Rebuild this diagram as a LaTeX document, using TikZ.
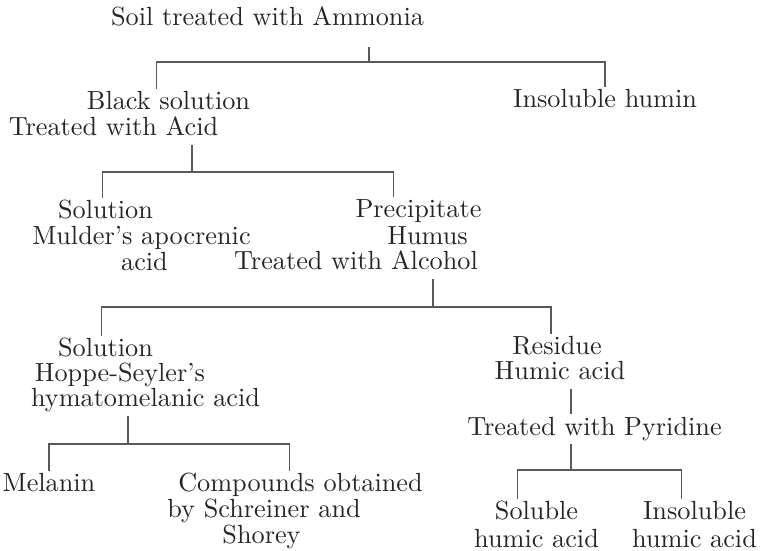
\documentclass[tikz,border=0pt]{standalone}
\usepackage{tikz}
\usetikzlibrary{calc}
\tikzset{
  lbl/.style={anchor=base, inner sep=1pt, text height=7pt, text depth=2.5pt, font=\fontsize{10.5}{11}\selectfont, text=black!85},
  tie/.style={draw=black!65, line width=0.45pt},
}
\begin{document}
\begin{tikzpicture}[x=0.4pt, y=-0.4pt]
\useasboundingbox (0,0) rectangle (766,551);
\node[lbl] (soil) at (267.5,26) {Soil treated with Ammonia};
\node[lbl] (blacksol) at (168.5,110) {Black solution};
\node[lbl] (acidtreat) at (113.5,136) {Treated with Acid};
\node[lbl] (humin) at (605,108) {Insoluble humin};
\node[lbl] (sol1) at (105.5,219) {Solution};
\node[lbl] (mulder) at (141.5,245) {Mulder's apocrenic};
\node[lbl] (mulderacid) at (144.5,271) {acid};
\node[lbl] (precip) at (418.5,218) {Precipitate};
\node[lbl] (humus) at (427.5,245) {Humus};
\node[lbl] (alctreat) at (356,270) {Treated with Alcohol};
\node[lbl] (sol2) at (105.5,357) {Solution};
\node[lbl] (hoppe) at (120,382) {Hoppe-Seyler's};
\node[lbl] (hymato) at (145.5,407) {hymatomelanic acid};
\node[lbl] (residue) at (557,355) {Residue};
\node[lbl] (humic) at (560,380) {Humic acid};
\node[lbl] (pyrtreat) at (594.5,435) {Treated with Pyridine};
\node[lbl] (melanin) at (49,492) {Melanin};
\node[lbl] (comp1) at (300.5,492) {Compounds obtained};
\node[lbl] (comp2) at (264,518) {by Schreiner and};
\node[lbl] (comp3) at (261.5,543) {Shorey};
\node[lbl] (soluble) at (536.5,520) {Soluble};
\node[lbl] (solacid) at (536.5,547) {humic acid};
\node[lbl] (insoluble) at (694.5,520) {Insoluble};
\node[lbl] (insolacid) at (694.5,547) {humic acid};
\coordinate (b1) at (369,62);
\coordinate (b2) at (192,172);
\coordinate (b3) at (433,307);
\coordinate (b4) at (128,444);
\coordinate (b5) at (571,470);
\draw[tie, shorten <=4.8pt] (soil.south -| b1) -- (b1);
\draw[tie] ([xshift=-4.8pt]blacksol.north) |- (b1) -| (humin.north);
\draw[tie] (acidtreat.south -| b2) -- (b2);
\draw[tie] ([xshift=-1.2pt]sol1.north) |- (b2) -| ([xshift=-10pt]precip.north);
\draw[tie] (alctreat.south -| b3) -- (b3);
\draw[tie] ([xshift=-1.6pt]sol2.north) |- (b3) -| ([xshift=-2.4pt]residue.north);
\draw[tie] (hymato.south -| b4) -- (b4);
\draw[tie] (melanin.north) |- (b4) -| ([xshift=-4.4pt]comp1.north);
\draw[tie] (humic.south -| b5) -- (pyrtreat.north -| b5);
\draw[tie] (pyrtreat.south -| b5) -- (b5);
\draw[tie] ([xshift=-7.6pt]soluble.north) |- (b5) -| ([xshift=-5.2pt]insoluble.north);
\end{tikzpicture}
\end{document}
